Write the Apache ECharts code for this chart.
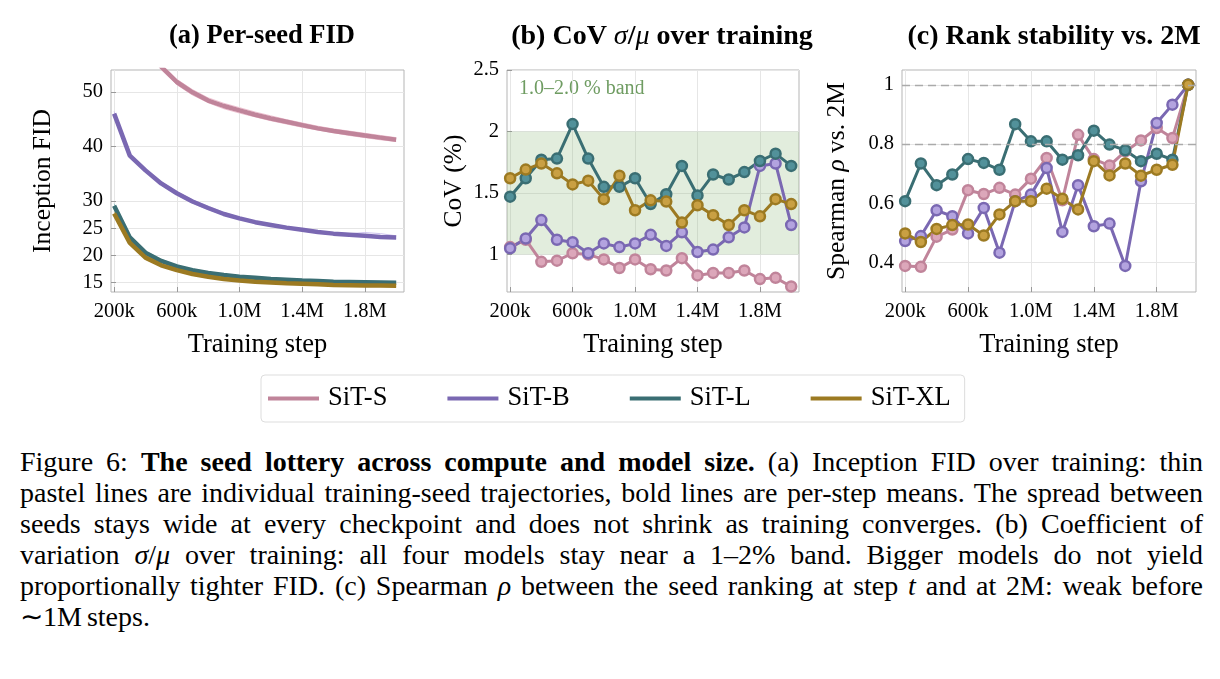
<!DOCTYPE html>
<html lang="en">

<head>
    <meta charset="UTF-8" />
    <title>Seed lottery</title>
    <script src="https://cdn.jsdelivr.net/npm/echarts@6/dist/echarts.min.js"></script>
    <style>
        body { margin: 0; background: #fff; }
        #main { position: absolute; left: 0; top: 0; width: 1220px; height: 440px; }
        #caption {
            position: absolute; left: 20px; top: 446px; width: 1183px;
            font-family: "Liberation Serif", serif; font-size: 28px; line-height: 31px;
            word-spacing: -2px; color: #000;
        }
        #caption div { white-space: nowrap; text-align: justify; text-align-last: justify; }
        #caption div.last { text-align-last: left; }
        #caption i { font-style: italic; }
    </style>
</head>

<body>
    <div id="main"></div>
    <div id="caption">
        <div>Figure 6: <b>The seed lottery across compute and model size.</b> (a) Inception FID over training: thin</div>
        <div>pastel lines are individual training-seed trajectories, bold lines are per-step means. The spread between</div>
        <div>seeds stays wide at every checkpoint and does not shrink as training converges. (b) Coefficient of</div>
        <div>variation <i>σ</i>/<i>μ</i> over training: all four models stay near a 1–2% band. Bigger models do not yield</div>
        <div>proportionally tighter FID. (c) Spearman <i>ρ</i> between the seed ranking at step <i>t</i> and at 2M: weak before</div>
        <div class="last">∼1M steps.</div>
    </div>
</body>
<script>
    var FONT = 'Liberation Serif';

    // checkpoints (training steps)
    var steps = [200000, 300000, 400000, 500000, 600000, 700000, 800000, 900000, 1000000, 1100000,
        1200000, 1300000, 1400000, 1500000, 1600000, 1700000, 1800000, 1900000, 2000000];
    var xTicks = [200000, 600000, 1000000, 1400000, 1800000];
    var models = ['SiT-S', 'SiT-B', 'SiT-L', 'SiT-XL'];

    // (a) FID: per-step means and a couple of seed trajectories
    var fidS = [78, 66, 59, 54.6, 51.8, 49.9, 48.4, 47.4, 46.6, 45.8, 45.1, 44.5, 43.9, 43.3, 42.8, 42.4, 42.0, 41.6, 41.2];
    var fidSSeed1 = [77.2, 65.4, 58.5, 54.1, 51.3, 49.4, 48.0, 46.9, 46.1, 45.4, 44.7, 44.1, 43.5, 43.0, 42.5, 42.0, 41.6, 41.2, 40.9];
    var fidSSeed2 = [78.9, 66.7, 59.6, 55.1, 52.3, 50.4, 48.9, 47.9, 47.1, 46.3, 45.6, 44.9, 44.3, 43.7, 43.2, 42.8, 42.4, 42.0, 41.6];
    var fidB = [46.0, 38.3, 35.6, 33.2, 31.4, 29.9, 28.7, 27.6, 26.8, 26.1, 25.6, 25.1, 24.7, 24.3, 24.0, 23.8, 23.6, 23.4, 23.3];
    var fidBSeed1 = [45.6, 38.0, 35.3, 32.9, 31.1, 29.6, 28.4, 27.4, 26.6, 25.9, 25.4, 24.9, 24.5, 24.1, 23.8, 23.6, 23.4, 23.2, 23.1];
    var fidBSeed2 = [46.4, 38.6, 35.9, 33.5, 31.7, 30.2, 29.0, 27.9, 27.0, 26.3, 25.8, 25.3, 24.9, 24.5, 24.2, 24.0, 24.2, 24.0, 23.6];
    var fidL = [29.1, 23.3, 20.5, 19.0, 18.0, 17.3, 16.8, 16.4, 16.1, 15.9, 15.7, 15.55, 15.4, 15.3, 15.2, 15.15, 15.1, 15.05, 15.0];
    var fidLSeed1 = [29.5, 23.6, 20.8, 19.3, 18.2, 17.5, 17.0, 16.6, 16.3, 16.1, 15.9, 15.75, 15.6, 15.5, 15.4, 15.35, 15.3, 15.25, 15.2];
    var fidLSeed2 = [28.7, 23.0, 20.2, 18.7, 17.8, 17.1, 16.6, 16.2, 15.9, 15.7, 15.5, 15.35, 15.2, 15.1, 15.0, 14.95, 14.9, 14.85, 14.8];
    var fidXL = [27.7, 22.3, 19.6, 18.2, 17.3, 16.6, 16.1, 15.7, 15.4, 15.2, 15.05, 14.9, 14.8, 14.7, 14.6, 14.55, 14.5, 14.5, 14.45];
    var fidXLSeed1 = [28.0, 22.6, 19.9, 18.4, 17.5, 16.8, 16.3, 15.9, 15.6, 15.4, 15.2, 15.1, 15.0, 14.9, 14.8, 14.75, 14.7, 14.7, 14.65];
    var fidXLSeed2 = [27.4, 22.0, 19.3, 18.0, 17.1, 16.4, 15.9, 15.5, 15.2, 15.0, 14.9, 14.75, 14.6, 14.5, 14.45, 14.4, 14.35, 14.3, 14.3];
    var fidTicks = [15, 20, 25, 30, 40, 50];

    // (b) CoV in %
    var covS = [1.06, 1.12, 0.94, 0.95, 1.01, 1.00, 0.96, 0.89, 0.96, 0.88, 0.87, 0.97, 0.83, 0.85, 0.85, 0.87, 0.80, 0.81, 0.74];
    var covB = [1.05, 1.13, 1.28, 1.12, 1.10, 1.01, 1.09, 1.06, 1.09, 1.16, 1.07, 1.18, 1.02, 1.04, 1.14, 1.22, 1.72, 1.74, 1.24];
    var covL = [1.47, 1.62, 1.77, 1.78, 2.06, 1.78, 1.55, 1.55, 1.62, 1.41, 1.49, 1.72, 1.48, 1.65, 1.61, 1.67, 1.76, 1.82, 1.72];
    var covXL = [1.62, 1.69, 1.74, 1.66, 1.57, 1.60, 1.45, 1.64, 1.36, 1.44, 1.43, 1.26, 1.40, 1.32, 1.24, 1.36, 1.31, 1.45, 1.41];
    var covTicks = [1, 1.5, 2, 2.5];

    // (c) Spearman rho vs. 2M ranking
    var rhoS = [0.388, 0.385, 0.487, 0.511, 0.644, 0.631, 0.652, 0.629, 0.683, 0.753, 0.610, 0.831, 0.749, 0.727, 0.775, 0.812, 0.854, 0.820, 1.0];
    var rhoB = [0.472, 0.489, 0.576, 0.556, 0.498, 0.584, 0.433, 0.607, 0.629, 0.719, 0.503, 0.661, 0.522, 0.531, 0.388, 0.674, 0.871, 0.933, 1.0];
    var rhoL = [0.607, 0.734, 0.661, 0.697, 0.749, 0.736, 0.713, 0.867, 0.809, 0.809, 0.747, 0.762, 0.845, 0.798, 0.779, 0.742, 0.767, 0.747, 1.0];
    var rhoXL = [0.498, 0.469, 0.513, 0.526, 0.528, 0.491, 0.562, 0.607, 0.607, 0.649, 0.615, 0.579, 0.742, 0.694, 0.734, 0.693, 0.713, 0.730, 1.0];
    var rhoTicks = [0.4, 0.6, 0.8, 1];

    var lineColor = { 'SiT-S': '#c0849a', 'SiT-B': '#7a68b2', 'SiT-L': '#3a6e73', 'SiT-XL': '#9c7a22' };
    var fillColor = { 'SiT-S': '#dca7ba', 'SiT-B': '#b3a3df', 'SiT-L': '#52919a', 'SiT-XL': '#c9a043' };
    var seedColor = { 'SiT-S': '#efc3d2', 'SiT-B': '#cdc2ee', 'SiT-L': '#9cc6c9', 'SiT-XL': '#dcc58a' };

    function pairs(ys) {
        var out = [];
        for (var i = 0; i < steps.length; i++) out.push([steps[i], ys[i]]);
        return out;
    }

    function stepLabel(v) {
        if (v < 1000000) return Math.round(v / 1000) + 'k';
        return (v / 1000000).toFixed(1) + 'M';
    }

    var axisText = { fontFamily: FONT, fontSize: 20.5, color: '#000' };
    function nameStyle(size) {
        return { fontFamily: FONT, fontSize: size, color: '#000', rich: { i: { fontFamily: FONT, fontSize: size, fontStyle: 'italic', color: '#000' } } };
    }

    function xAxisFor(idx) {
        return {
            type: 'value', gridIndex: idx, min: 180000, max: 2050000,
            name: 'Training step', nameLocation: 'middle', nameGap: 40, nameTextStyle: nameStyle(26.5),
            axisLine: { show: false },
            axisTick: { inside: true, length: 5, customValues: xTicks, lineStyle: { color: '#999' } },
            axisLabel: Object.assign({ customValues: xTicks, margin: 9, formatter: stepLabel }, axisText),
            splitLine: { show: true, lineStyle: { color: '#e6e6e6', width: 1 } }
        };
    }

    function yAxisFor(idx, min, max, ticks, name, gap) {
        return {
            type: 'value', gridIndex: idx, min: min, max: max,
            name: name, nameLocation: 'middle', nameGap: gap, nameTextStyle: nameStyle(25.5),
            axisLine: { show: false },
            axisTick: { inside: true, length: 5, customValues: ticks, lineStyle: { color: '#999' } },
            axisLabel: Object.assign({ customValues: ticks, margin: 8 }, axisText),
            splitLine: { show: true, lineStyle: { color: '#e6e6e6', width: 1 } }
        };
    }

    function gridAt(left, width) {
        return { left: left, top: 70, width: width, height: 222, show: true, borderColor: '#b5b5b5', borderWidth: 1, backgroundColor: 'transparent', outerBoundsMode: 'none', containLabel: false };
    }

    var series = [];

    // panel (a): thin seeds then bold means
    var fidSets = [
        ['SiT-S', fidS, [fidSSeed1, fidSSeed2]],
        ['SiT-B', fidB, [fidBSeed1, fidBSeed2]],
        ['SiT-L', fidL, [fidLSeed1, fidLSeed2]],
        ['SiT-XL', fidXL, [fidXLSeed1, fidXLSeed2]]
    ];
    fidSets.forEach(function (set) {
        var m = set[0];
        set[2].forEach(function (seed, k) {
            series.push({
                name: m + ' seed ' + (k + 1), type: 'line', xAxisIndex: 0, yAxisIndex: 0,
                data: pairs(seed), showSymbol: false, silent: true,
                lineStyle: { color: seedColor[m], width: 1 }, itemStyle: { color: seedColor[m] }, z: 2
            });
        });
    });
    fidSets.forEach(function (set) {
        var m = set[0];
        series.push({
            name: m, type: 'line', xAxisIndex: 0, yAxisIndex: 0,
            data: pairs(set[1]), showSymbol: false,
            lineStyle: { color: lineColor[m], width: 4.5 }, itemStyle: { color: lineColor[m] }, z: 3
        });
    });

    function markerSeries(m, ys, axisIdx) {
        return {
            name: m, type: 'line', xAxisIndex: axisIdx, yAxisIndex: axisIdx,
            data: pairs(ys), symbol: 'circle', symbolSize: 10,
            lineStyle: { color: lineColor[m], width: 3 },
            itemStyle: { color: fillColor[m], borderColor: lineColor[m], borderWidth: 2.5 },
            z: 3
        };
    }

    // panel (b)
    var covSets = [['SiT-S', covS], ['SiT-B', covB], ['SiT-L', covL], ['SiT-XL', covXL]];
    covSets.forEach(function (set) { series.push(markerSeries(set[0], set[1], 1)); });
    series[series.length - 4].markArea = {
        silent: true,
        itemStyle: { color: 'rgba(140,185,120,0.25)' },
        data: [[{ yAxis: 1 }, { yAxis: 2 }]]
    };

    // panel (c)
    var rhoSets = [['SiT-S', rhoS], ['SiT-B', rhoB], ['SiT-L', rhoL], ['SiT-XL', rhoXL]];
    rhoSets.forEach(function (set) { series.push(markerSeries(set[0], set[1], 2)); });
    series[series.length - 4].markLine = {
        silent: true, symbol: 'none', label: { show: false },
        lineStyle: { color: '#aaaaaa', type: [8, 5], width: 1.3 },
        data: [{ yAxis: 0.8 }, { yAxis: 1 }]
    };

    function titleStyle(size) {
        return {
            fontFamily: FONT, fontSize: size, fontWeight: 'bold', color: '#000',
            rich: { i: { fontFamily: FONT, fontSize: size, fontStyle: 'italic', fontWeight: 'normal', color: '#000' } }
        };
    }

    var option = {
        animation: false,
        backgroundColor: '#fff',
        title: [
            { text: '(a) Per-seed FID', left: 257, top: 18, textAlign: 'center', textStyle: titleStyle(26.5) },
            { text: '(b) CoV {i|σ}/{i|μ} over training', left: 657, top: 18, textAlign: 'center', textStyle: titleStyle(28) },
            { text: '(c) Rank stability vs. 2M', left: 1049, top: 18, textAlign: 'center', textStyle: titleStyle(28) }
        ],
        grid: [gridAt(111, 293), gridAt(507, 292), gridAt(902, 294)],
        xAxis: [xAxisFor(0), xAxisFor(1), xAxisFor(2)],
        yAxis: [
            yAxisFor(0, 13.3, 54, fidTicks, 'Inception FID', 55),
            yAxisFor(1, 0.695, 2.5, covTicks, 'CoV (%)', 40),
            yAxisFor(2, 0.3, 1.05, rhoTicks, 'Spearman {i|ρ} vs. 2M', 52)
        ],
        legend: {
            left: 261, top: 375,
            padding: [10, 14, 10, 7],
            itemGap: 60, itemWidth: 51, itemHeight: 4, icon: 'rect',
            borderColor: '#dddddd', borderWidth: 1, borderRadius: 4,
            selectedMode: false,
            textStyle: { fontFamily: FONT, fontSize: 26.5, color: '#000', padding: [0, 0, 0, 4] },
            data: models.map(function (m) { return { name: m, itemStyle: { color: lineColor[m] } }; })
        },
        graphic: [{
            type: 'text', left: 519, top: 79,
            style: { text: '1.0–2.0 % band', fontFamily: FONT, fontSize: 20, fill: '#6f9c62' }
        }],
        series: series
    };

    var myChart = echarts.init(document.getElementById('main'));
    myChart.setOption(option);
</script>

</html>
